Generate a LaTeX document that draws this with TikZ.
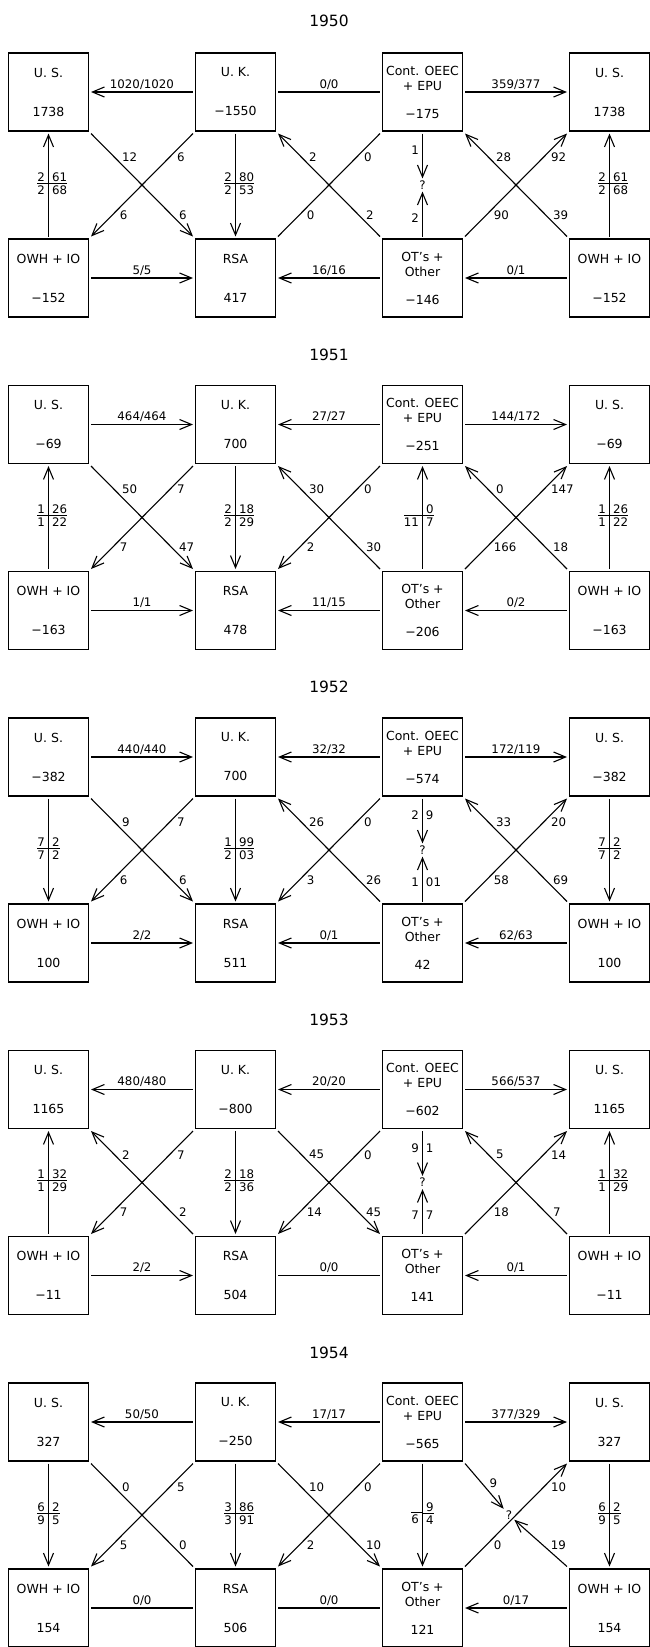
\documentclass[tikz,border=0pt]{standalone}
\usepackage{fontspec}
\setmainfont{DejaVu Sans}
\usetikzlibrary{arrows.meta,positioning,calc}

\newcommand{\elab}{\fontsize{11.8}{12.8}\selectfont}
% split label: the connector runs through the gap
\newcommand{\gapfrac}[4]{\makebox[0pt]{%
  \llap{\begin{tabular}{@{}r@{\hspace{3.5pt}}}#1\\[-1.5pt]\hline\rule{0pt}{10.5pt}#3\end{tabular}}%
  \rlap{\begin{tabular}{@{\hspace{3.5pt}}l@{}}#2\\[-1.5pt]\hline\rule{0pt}{10.5pt}#4\end{tabular}}}}
\newcommand{\gapnum}[2]{\makebox[0pt]{\llap{#1\hspace{3.5pt}}\rlap{\hspace{3.5pt}#2}}}
\setlength{\arrayrulewidth}{0.9pt}
\renewcommand{\arraystretch}{0.85}

\begin{document}
\begin{tikzpicture}[x=1pt, y=1pt, node distance=103pt and 102pt,
  cbox/.style={rectangle, draw, line width=1.6pt, minimum width=80pt, minimum height=78pt, inner sep=0pt, outer sep=2.5pt, align=center, font=\fontsize{12.5}{15}\selectfont},
  year/.style={font=\fontsize{15.5}{18}\selectfont},
  qmark/.style={inner sep=2pt, font=\elab},
  flow/.style={line width=1.1pt, >={Straight Barb[length=12pt, width=10pt]}},
  hlab/.style={midway, above, inner sep=2pt, font=\elab},
  vlab/.style={midway, inner sep=0pt, font=\elab},
  qlab/.style={inner sep=0pt, font=\elab},
  dlab/.style={anchor=west, inner sep=7pt, font=\elab},
  tl/.style={dlab, pos=0.23},
  bl/.style={dlab, pos=0.79}]

\useasboundingbox (0,0) rectangle (650,-1647);

% 1950
\node[year] (t50) at (329,-21) {1950};
\node[cbox] (a50) at (48.5,-92) {U. S.\\[24pt]1738};
\node[cbox, right=of a50] (b50) {U. K.\\[24pt]−1550};
\node[cbox, right=of b50] (c50) {Cont. OEEC\\+ EPU\\[13pt]−175};
\node[cbox, right=of c50] (d50) {U. S.\\[24pt]1738};
\node[cbox, below=of a50] (e50) {OWH + IO\\[24pt]−152};
\node[cbox, below=of b50] (f50) {RSA\\[24pt]417};
\node[cbox, below=of c50] (g50) {OT's +\\Other\\[13pt]−146};
\node[cbox, below=of d50] (h50) {OWH + IO\\[24pt]−152};
\node[qmark] (q50) at ($(c50)!0.5!(g50)$) {?};

\draw[flow, <-] (a50) -- node[hlab]{1020/1020} (b50);
\draw[flow] (b50) -- node[hlab]{0/0} (c50);
\draw[flow, ->] (c50) -- node[hlab]{359/377} (d50);
\draw[flow, ->] (e50) -- node[hlab]{5/5} (f50);
\draw[flow, <-] (f50) -- node[hlab]{16/16} (g50);
\draw[flow, <-] (g50) -- node[hlab]{0/1} (h50);
\draw[flow, <-] (a50) -- node[vlab]{\gapfrac{2}{61}{2}{68}} (e50);
\draw[flow, ->] (b50) -- node[vlab]{\gapfrac{2}{80}{2}{53}} (f50);
\draw[flow, <-] (d50) -- node[vlab]{\gapfrac{2}{61}{2}{68}} (h50);
\draw[flow, ->] (c50) -- node[qlab, pos=0.38]{\gapnum{1}{}} (q50);
\draw[flow, <-] (q50) -- node[qlab, pos=0.58]{\gapnum{2}{}} (g50);
\draw[flow, ->] (a50.south east) -- node[tl]{12} node[bl]{6} (f50.north west);
\draw[flow, ->] (b50.south west) -- node[tl]{6} node[bl]{6} (e50.north east);
\draw[flow, <-] (b50.south east) -- node[tl]{2} node[bl]{2} (g50.north west);
\draw[flow] (c50.south west) -- node[tl]{0} node[bl]{0} (f50.north east);
\draw[flow, <-] (c50.south east) -- node[tl]{28} node[bl]{39} (h50.north west);
\draw[flow, <-] (d50.south west) -- node[tl]{92} node[bl]{90} (g50.north east);

% 1951
\node[year] (t51) at (329,-354.5) {1951};
\node[cbox] (a51) at (48.5,-424.5) {U. S.\\[24pt]−69};
\node[cbox, right=of a51] (b51) {U. K.\\[24pt]700};
\node[cbox, right=of b51] (c51) {Cont. OEEC\\+ EPU\\[13pt]−251};
\node[cbox, right=of c51] (d51) {U. S.\\[24pt]−69};
\node[cbox, below=of a51] (e51) {OWH + IO\\[24pt]−163};
\node[cbox, below=of b51] (f51) {RSA\\[24pt]478};
\node[cbox, below=of c51] (g51) {OT's +\\Other\\[13pt]−206};
\node[cbox, below=of d51] (h51) {OWH + IO\\[24pt]−163};

\draw[flow, ->] (a51) -- node[hlab]{464/464} (b51);
\draw[flow, <-] (b51) -- node[hlab]{27/27} (c51);
\draw[flow, ->] (c51) -- node[hlab]{144/172} (d51);
\draw[flow, ->] (e51) -- node[hlab]{1/1} (f51);
\draw[flow, <-] (f51) -- node[hlab]{11/15} (g51);
\draw[flow, <-] (g51) -- node[hlab]{0/2} (h51);
\draw[flow, <-] (a51) -- node[vlab]{\gapfrac{1}{26}{1}{22}} (e51);
\draw[flow, ->] (b51) -- node[vlab]{\gapfrac{2}{18}{2}{29}} (f51);
\draw[flow, <-] (c51) -- node[vlab]{\gapfrac{}{0}{11}{7}} (g51);
\draw[flow, <-] (d51) -- node[vlab]{\gapfrac{1}{26}{1}{22}} (h51);
\draw[flow, ->] (a51.south east) -- node[tl]{50} node[bl]{47} (f51.north west);
\draw[flow, ->] (b51.south west) -- node[tl]{7} node[bl]{7} (e51.north east);
\draw[flow, <-] (b51.south east) -- node[tl]{30} node[bl]{30} (g51.north west);
\draw[flow, ->] (c51.south west) -- node[tl]{0} node[bl]{2} (f51.north east);
\draw[flow, <-] (c51.south east) -- node[tl]{0} node[bl]{18} (h51.north west);
\draw[flow, <-] (d51.south west) -- node[tl]{147} node[bl]{166} (g51.north east);

% 1952
\node[year] (t52) at (329,-687) {1952};
\node[cbox] (a52) at (48.5,-757) {U. S.\\[24pt]−382};
\node[cbox, right=of a52] (b52) {U. K.\\[24pt]700};
\node[cbox, right=of b52] (c52) {Cont. OEEC\\+ EPU\\[13pt]−574};
\node[cbox, right=of c52] (d52) {U. S.\\[24pt]−382};
\node[cbox, below=of a52] (e52) {OWH + IO\\[24pt]100};
\node[cbox, below=of b52] (f52) {RSA\\[24pt]511};
\node[cbox, below=of c52] (g52) {OT's +\\Other\\[13pt]42};
\node[cbox, below=of d52] (h52) {OWH + IO\\[24pt]100};
\node[qmark] (q52) at ($(c52)!0.5!(g52)$) {?};

\draw[flow, ->] (a52) -- node[hlab]{440/440} (b52);
\draw[flow, <-] (b52) -- node[hlab]{32/32} (c52);
\draw[flow, ->] (c52) -- node[hlab]{172/119} (d52);
\draw[flow, ->] (e52) -- node[hlab]{2/2} (f52);
\draw[flow, <-] (f52) -- node[hlab]{0/1} (g52);
\draw[flow, <-] (g52) -- node[hlab]{62/63} (h52);
\draw[flow, ->] (a52) -- node[vlab]{\gapfrac{7}{2}{7}{2}} (e52);
\draw[flow, ->] (b52) -- node[vlab]{\gapfrac{1}{99}{2}{03}} (f52);
\draw[flow, ->] (d52) -- node[vlab]{\gapfrac{7}{2}{7}{2}} (h52);
\draw[flow, ->] (c52) -- node[qlab, pos=0.38]{\gapnum{2}{9}} (q52);
\draw[flow, <-] (q52) -- node[qlab, pos=0.58]{\gapnum{1}{01}} (g52);
\draw[flow, ->] (a52.south east) -- node[tl]{9} node[bl]{6} (f52.north west);
\draw[flow, ->] (b52.south west) -- node[tl]{7} node[bl]{6} (e52.north east);
\draw[flow, <-] (b52.south east) -- node[tl]{26} node[bl]{26} (g52.north west);
\draw[flow, ->] (c52.south west) -- node[tl]{0} node[bl]{3} (f52.north east);
\draw[flow, <-] (c52.south east) -- node[tl]{33} node[bl]{69} (h52.north west);
\draw[flow, <-] (d52.south west) -- node[tl]{20} node[bl]{58} (g52.north east);

% 1953
\node[year] (t53) at (329,-1019.5) {1953};
\node[cbox] (a53) at (48.5,-1089.5) {U. S.\\[24pt]1165};
\node[cbox, right=of a53] (b53) {U. K.\\[24pt]−800};
\node[cbox, right=of b53] (c53) {Cont. OEEC\\+ EPU\\[13pt]−602};
\node[cbox, right=of c53] (d53) {U. S.\\[24pt]1165};
\node[cbox, below=of a53] (e53) {OWH + IO\\[24pt]−11};
\node[cbox, below=of b53] (f53) {RSA\\[24pt]504};
\node[cbox, below=of c53] (g53) {OT's +\\Other\\[13pt]141};
\node[cbox, below=of d53] (h53) {OWH + IO\\[24pt]−11};
\node[qmark] (q53) at ($(c53)!0.5!(g53)$) {?};

\draw[flow, <-] (a53) -- node[hlab]{480/480} (b53);
\draw[flow, <-] (b53) -- node[hlab]{20/20} (c53);
\draw[flow, ->] (c53) -- node[hlab]{566/537} (d53);
\draw[flow, ->] (e53) -- node[hlab]{2/2} (f53);
\draw[flow] (f53) -- node[hlab]{0/0} (g53);
\draw[flow, <-] (g53) -- node[hlab]{0/1} (h53);
\draw[flow, <-] (a53) -- node[vlab]{\gapfrac{1}{32}{1}{29}} (e53);
\draw[flow, ->] (b53) -- node[vlab]{\gapfrac{2}{18}{2}{36}} (f53);
\draw[flow, <-] (d53) -- node[vlab]{\gapfrac{1}{32}{1}{29}} (h53);
\draw[flow, ->] (c53) -- node[qlab, pos=0.38]{\gapnum{9}{1}} (q53);
\draw[flow, <-] (q53) -- node[qlab, pos=0.58]{\gapnum{7}{7}} (g53);
\draw[flow, <-] (a53.south east) -- node[tl]{2} node[bl]{2} (f53.north west);
\draw[flow, ->] (b53.south west) -- node[tl]{7} node[bl]{7} (e53.north east);
\draw[flow, ->] (b53.south east) -- node[tl]{45} node[bl]{45} (g53.north west);
\draw[flow, ->] (c53.south west) -- node[tl]{0} node[bl]{14} (f53.north east);
\draw[flow, <-] (c53.south east) -- node[tl]{5} node[bl]{7} (h53.north west);
\draw[flow, <-] (d53.south west) -- node[tl]{14} node[bl]{18} (g53.north east);

% 1954
\node[year] (t54) at (329,-1353) {1954};
\node[cbox] (a54) at (48.5,-1422) {U. S.\\[24pt]327};
\node[cbox, right=of a54] (b54) {U. K.\\[24pt]−250};
\node[cbox, right=of b54] (c54) {Cont. OEEC\\+ EPU\\[13pt]−565};
\node[cbox, right=of c54] (d54) {U. S.\\[24pt]327};
\node[cbox, below=of a54] (e54) {OWH + IO\\[24pt]154};
\node[cbox, below=of b54] (f54) {RSA\\[24pt]506};
\node[cbox, below=of c54] (g54) {OT's +\\Other\\[13pt]121};
\node[cbox, below=of d54] (h54) {OWH + IO\\[24pt]154};
\node[qmark, xshift=-7pt] (q54) at ($(c54)!0.5!(h54)$) {?};

\draw[flow, <-] (a54) -- node[hlab]{50/50} (b54);
\draw[flow, <-] (b54) -- node[hlab]{17/17} (c54);
\draw[flow, ->] (c54) -- node[hlab]{377/329} (d54);
\draw[flow] (e54) -- node[hlab]{0/0} (f54);
\draw[flow] (f54) -- node[hlab]{0/0} (g54);
\draw[flow, <-] (g54) -- node[hlab]{0/17} (h54);
\draw[flow, ->] (a54) -- node[vlab]{\gapfrac{6}{2}{9}{5}} (e54);
\draw[flow, ->] (b54) -- node[vlab]{\gapfrac{3}{86}{3}{91}} (f54);
\draw[flow, ->] (c54) -- node[vlab]{\gapfrac{}{9}{6}{4}} (g54);
\draw[flow, ->] (d54) -- node[vlab]{\gapfrac{6}{2}{9}{5}} (h54);
\draw[flow] (a54.south east) -- node[tl]{0} node[bl]{0} (f54.north west);
\draw[flow, ->] (b54.south west) -- node[tl]{5} node[bl]{5} (e54.north east);
\draw[flow, ->] (b54.south east) -- node[tl]{10} node[bl]{10} (g54.north west);
\draw[flow, ->] (c54.south west) -- node[tl]{0} node[bl]{2} (f54.north east);
\draw[flow, <-] (d54.south west) -- node[tl]{10} node[bl]{0} (g54.north east);
\draw[flow, ->] (c54.south east) -- node[dlab, pos=0.44]{9} (q54);
\draw[flow, ->] (h54.north west) -- node[dlab, pos=0.45]{19} (q54);

\end{tikzpicture}
\end{document}
